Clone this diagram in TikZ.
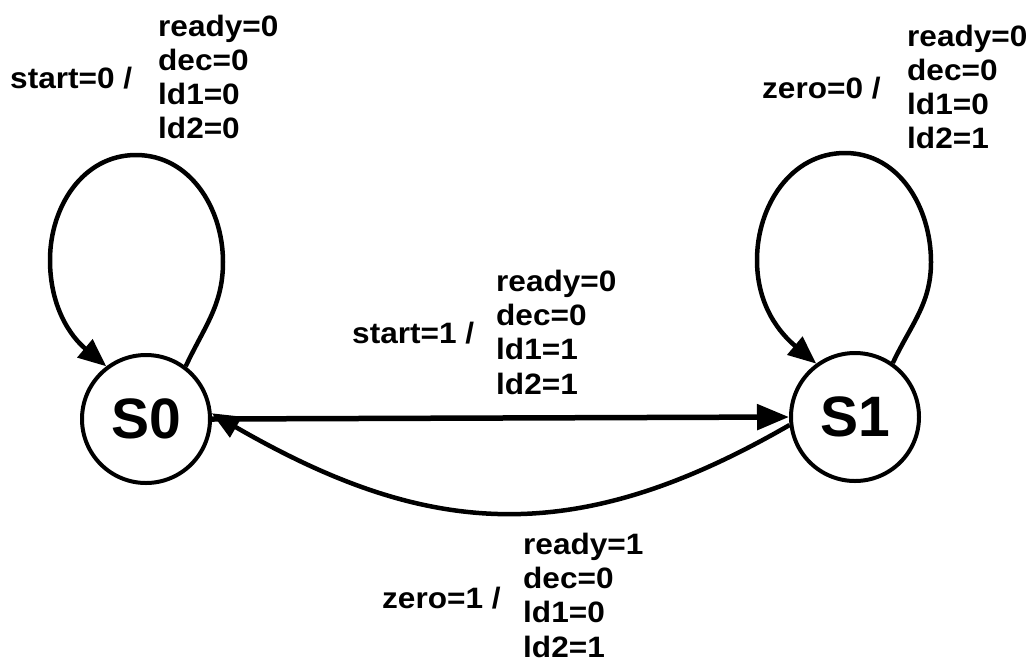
\documentclass[tikz,border=0pt]{standalone}
\usepackage{fontspec}
\usetikzlibrary{arrows.meta}
\newfontfamily\lblfont[FakeStretch=1.07]{Liberation Sans}
\newfontfamily\stfont{Liberation Sans}
\tikzset{
  state/.style={circle, draw, line width=4pt, minimum size=128pt, inner sep=0pt,
    font=\stfont\bfseries\fontsize{57}{60}\selectfont},
  cond/.style={anchor=west, inner sep=0pt, font=\lblfont\bfseries\fontsize{29.5}{34.3}\selectfont},
  outs/.style={cond, align=left},
  trans/.style={line width=4.5pt, -{Triangle[length=28pt,width=23pt]}}
}

\begin{document}
\begin{tikzpicture}[x=1pt,y=1pt]
          \useasboundingbox (0,0) rectangle (1036,-662);
          \node[state] (S0) at (146,-419) {S0};
          \node[state] (S1) at (855,-417) {S1};
          \draw[trans] (S0.53) to[out=65,in=-90] (223,-262) to[out=90,in=0] (136,-155)
            to[out=180,in=90] (50,-260) to[out=-90,in=140] (S0.127);
          \draw[trans] (S1.55) to[out=65,in=-90] (931,-262) to[out=90,in=0] (845,-153)
            to[out=180,in=90] (757,-260) to[out=-90,in=140] (S1.126);
          \draw[trans, line width=5.5pt, -{Triangle[length=32pt,width=25pt]}] (S0.east) -- (S1.west);
          \draw[trans] (S1.187) to[out=-150,in=-30,looseness=1.1] (S0.5);
            \node[cond] (c00) at (10,-78) {start=0 /};
            \node[outs] (o00) at (158,-77) {ready=0\\dec=0\\ld1=0\\ld2=0};
            \node[cond] (c01) at (352,-333) {start=1 /};
            \node[outs] (o01) at (496,-332) {ready=0\\dec=0\\ld1=1\\ld2=1};
            \node[cond] (c11) at (762,-88) {zero=0 /};
            \node[outs] (o11) at (907,-87) {ready=0\\dec=0\\ld1=0\\ld2=1};
            \node[cond] (c10) at (382,-598) {zero=1 /};
            \node[outs] (o10) at (523,-595) {ready=1\\dec=0\\ld1=0\\ld2=1};
        \end{tikzpicture}
\end{document}
